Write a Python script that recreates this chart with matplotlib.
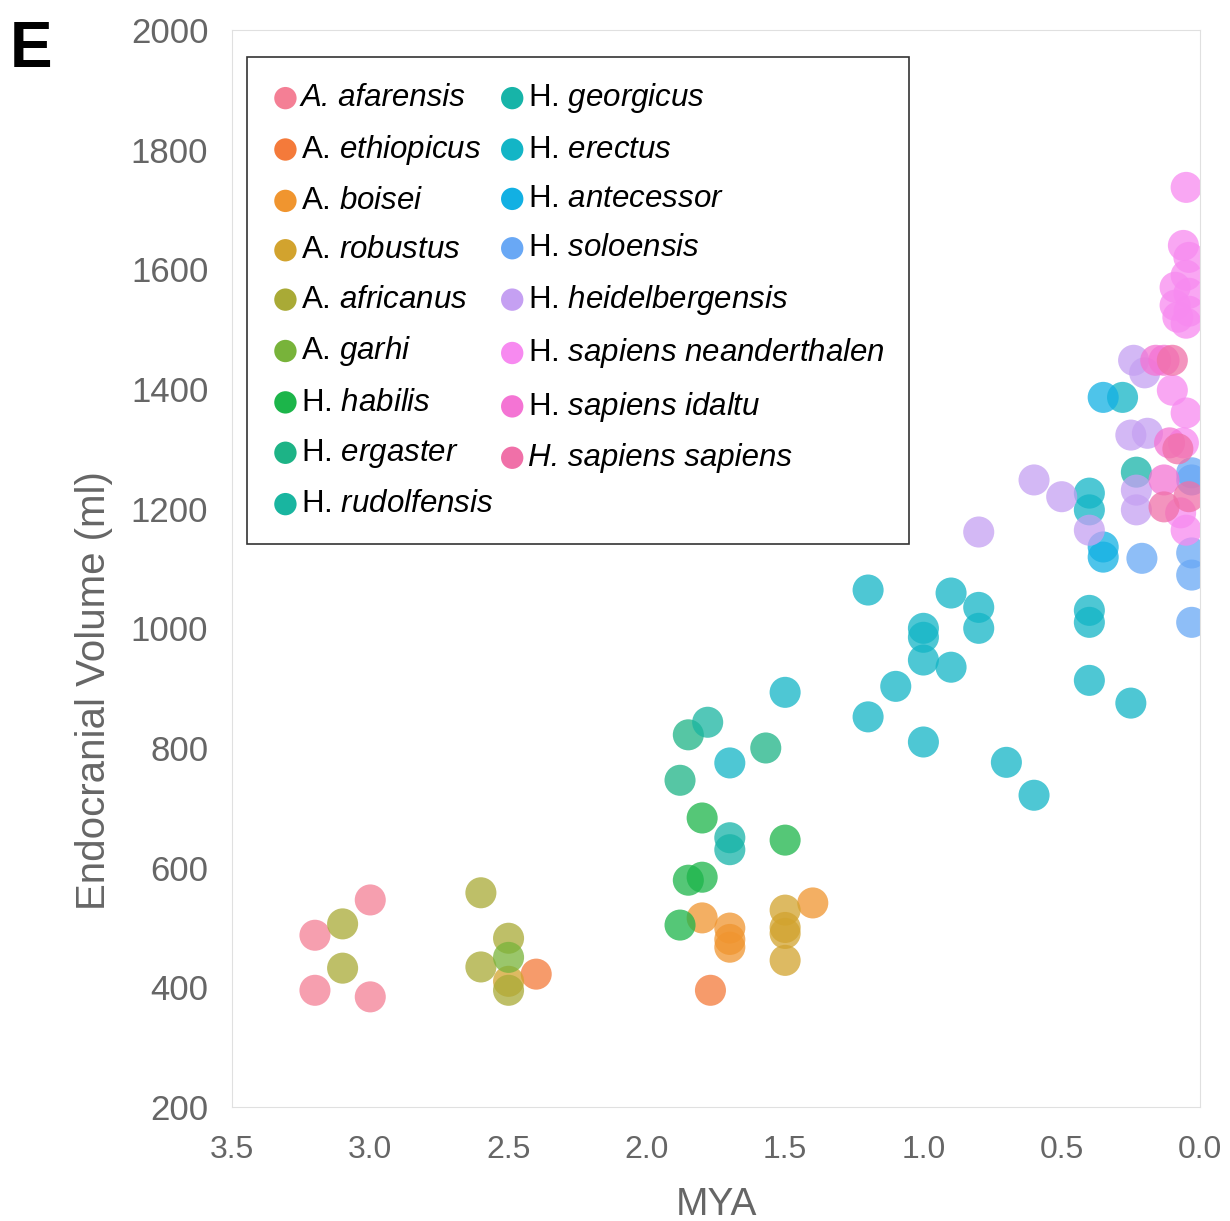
import matplotlib.pyplot as plt

plt.rcParams['font.family'] = ['Liberation Sans', 'DejaVu Sans']
plt.rcParams['mathtext.fontset'] = 'custom'
plt.rcParams['mathtext.it'] = 'Liberation Sans:italic'
plt.rcParams['mathtext.rm'] = 'Liberation Sans'

# species: (genus prefix, species name)
species = [
    ('A.', 'afarensis'), ('A.', 'ethiopicus'), ('A.', 'boisei'), ('A.', 'robustus'),
    ('A.', 'africanus'), ('A.', 'garhi'), ('H.', 'habilis'), ('H.', 'ergaster'),
    ('H.', 'rudolfensis'), ('H.', 'georgicus'), ('H.', 'erectus'), ('H.', 'antecessor'),
    ('H.', 'soloensis'), ('H.', 'heidelbergensis'), ('H.', 'sapiens neanderthalen'),
    ('H.', 'sapiens idaltu'), ('H.', 'sapiens sapiens'),
]
italic_prefix = {'afarensis', 'sapiens sapiens'}

colors = ['#f47f95', '#f47a3a', '#f0952f', '#d2a32e', '#a9aa36', '#78b33a',
          '#1cb54a', '#1db386', '#19b5a0', '#17b4a8', '#13b5c6', '#12b0e3',
          '#69a8f5', '#c5a0f2', '#f78af0', '#f474d4', '#f070a8']

# (MYA, endocranial volume ml) per species
afarensis = [(3.0, 546), (3.2, 487), (3.2, 395), (3.0, 384)]
ethiopicus = [(2.4, 422), (1.77, 395)]
boisei = [(1.8, 516), (1.7, 499), (1.7, 480), (1.7, 467), (1.4, 541)]
robustus = [(1.5, 529), (1.5, 500), (1.5, 490), (1.5, 445), (2.5, 410)]
africanus = [(3.1, 506), (3.1, 432), (2.6, 558), (2.6, 434), (2.5, 482), (2.5, 395)]
garhi = [(2.5, 450)]
habilis = [(1.8, 683), (1.85, 579), (1.8, 584), (1.88, 504), (1.5, 646)]
ergaster = [(1.88, 746), (1.85, 822), (1.57, 800)]
rudolfensis = [(1.78, 843)]
georgicus = [(1.7, 650), (1.7, 630), (0.23, 1261)]
erectus = [(1.5, 893), (1.7, 775), (1.2, 1064), (0.9, 1059), (0.8, 1035), (0.8, 1000),
           (1.0, 1000), (1.0, 985), (1.0, 947), (0.9, 935), (1.1, 903), (1.2, 852),
           (1.0, 810), (0.7, 776), (0.6, 721), (0.4, 1030), (0.4, 1010), (0.4, 913),
           (0.25, 875), (0.4, 1226), (0.4, 1198), (0.28, 1386)]
antecessor = [(0.35, 1386), (0.35, 1136), (0.35, 1119)]
soloensis = [(0.03, 1248), (0.03, 1260), (0.21, 1117), (0.03, 1126), (0.03, 1089), (0.03, 1010)]
heidelbergensis = [(0.8, 1161), (0.6, 1248), (0.5, 1220), (0.4, 1164), (0.24, 1448),
                   (0.2, 1427), (0.25, 1323), (0.19, 1326), (0.23, 1231), (0.23, 1198)]
neanderthalen = [(0.05, 1737), (0.06, 1640), (0.04, 1620), (0.05, 1590), (0.09, 1570),
                 (0.04, 1560), (0.09, 1540), (0.04, 1530), (0.08, 1520), (0.05, 1510),
                 (0.1, 1398), (0.05, 1360), (0.06, 1310), (0.07, 1193), (0.05, 1164)]
idaltu = [(0.16, 1448), (0.13, 1448), (0.11, 1310), (0.13, 1248)]
sapiens = [(0.1, 1448), (0.13, 1203), (0.08, 1300), (0.04, 1220)]

data = [afarensis, ethiopicus, boisei, robustus, africanus, garhi, habilis, ergaster,
        rudolfensis, georgicus, erectus, antecessor, soloensis, heidelbergensis,
        neanderthalen, idaltu, sapiens]

fig = plt.figure(figsize=(12.3, 12.21), dpi=100)
ax = fig.add_axes([0.1886, 0.0934, 0.787, 0.882])

for (genus, name), pts, c in zip(species, data, colors):
    xs = [p[0] for p in pts]
    ys = [p[1] for p in pts]
    if name in italic_prefix:
        label = genus + ' ' + name
    else:
        label = genus + ' $\\it{' + name.replace(' ', '\\ ') + '}$'
    ax.scatter(xs, ys, s=500, color=c, alpha=0.75, edgecolors='none', label=label)

ax.set_xlim(3.5, 0.0)
ax.set_ylim(200, 2000)
ax.set_xticks([3.5, 3.0, 2.5, 2.0, 1.5, 1.0, 0.5, 0.0])
ax.set_xticklabels(['3.5', '3.0', '2.5', '2.0', '1.5', '1.0', '0.5', '0.0'])
ax.set_yticks(range(200, 2001, 200))
ax.tick_params(axis='x', length=0, labelsize=23, labelcolor='#666666', pad=20)
ax.tick_params(axis='y', length=0, labelsize=25, labelcolor='#666666', pad=17)
for sp in ax.spines.values():
    sp.set_color('#e0e0e0')
ax.set_xlabel('MYA', fontsize=28, color='#666666', labelpad=16)
ax.set_ylabel('Endocranial Volume (ml)', fontsize=29, color='#666666')
ax.yaxis.set_label_coords(-0.123, 0.387)

leg = ax.legend(loc='upper left', ncol=2, fontsize=22.5, frameon=True, fancybox=False,
                edgecolor='black', markerscale=0.72, handlelength=0.9,
                handletextpad=0.05, columnspacing=0.15, labelspacing=0.62,
                borderpad=0.78, borderaxespad=0, bbox_to_anchor=(0.0155, 0.975))
leg.get_frame().set_linewidth(1.2)
for h in leg.legend_handles:
    h.set_alpha(1.0)
for t, (genus, name) in zip(leg.get_texts(), species):
    if name in italic_prefix:
        t.set_fontstyle('italic')

fig.text(0.008, 0.945, 'E', fontsize=46, fontweight='bold')

fig.savefig('out.png', dpi=100)
